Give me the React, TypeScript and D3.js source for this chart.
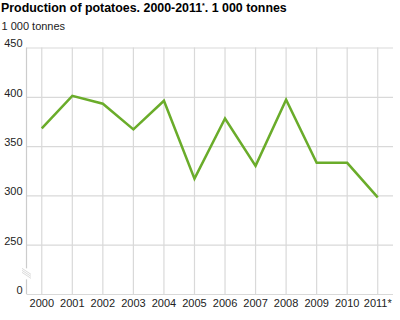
import { useEffect, useRef } from 'react'
import * as d3 from 'd3'

const years = ['2000', '2001', '2002', '2003', '2004', '2005', '2006', '2007', '2008', '2009', '2010', '2011*']
const production = [368, 401, 393, 367, 396, 317, 378, 330, 397, 333, 333, 298]
// axis is broken: the bottom tick stands for 0 but sits where 200 would be
const yTicks = [200, 250, 300, 350, 400, 450]
const yTickLabels = ['0', '250', '300', '350', '400', '450']

const WIDTH = 400
const HEIGHT = 320
const GREEN = '#6aac2a'
const GRID = '#d9d9d9'
const FONT = '"Liberation Sans", Arial, sans-serif'

function PotatoChart() {
  const ref = useRef<SVGSVGElement>(null)

  useEffect(() => {
    const el = ref.current
    if (!el) return
    const svg = d3.select(el)
    svg.selectAll('*').remove()

    const margin = { top: 47.5, right: 7, bottom: 26, left: 26.5 }
    const innerW = WIDTH - margin.left - margin.right
    const innerH = HEIGHT - margin.top - margin.bottom

    const x = d3.scaleBand().domain(years).range([0, innerW]).padding(0)
    const y = d3.scaleLinear().domain([200, 450]).range([innerH, 0])

    // title
    const title = svg
      .append('text')
      .attr('x', 1)
      .attr('y', 12)
      .attr('font-family', FONT)
      .attr('font-size', 12.4)
      .attr('font-weight', 700)
      .attr('fill', '#000')
    title.append('tspan').text('Production of potatoes. 2000-2011')
    title.append('tspan').attr('font-size', 7).attr('dy', -4).text('*')
    title.append('tspan').attr('dy', 4).text('. 1 000 tonnes')

    svg
      .append('text')
      .attr('x', 1.5)
      .attr('y', 30)
      .attr('font-family', FONT)
      .attr('font-size', 11)
      .attr('fill', '#222')
      .text('1 000 tonnes')

    const g = svg.append('g').attr('transform', `translate(${margin.left},${margin.top})`)

    // horizontal grid + y labels
    g.append('g')
      .call(
        d3
          .axisLeft(y)
          .tickValues(yTicks)
          .tickSize(-innerW)
          .tickPadding(4)
          .tickFormat((_, i) => yTickLabels[i])
      )
      .call((s) => s.select('.domain').remove())
      .call((s) => s.selectAll('line').attr('stroke', GRID).attr('stroke-width', 1.2))
      .call((s) =>
        s
          .selectAll('text')
          .attr('fill', '#222')
          .attr('font-family', FONT)
          .style('font-size', '11px')
          .attr('dy', '-0.05em')
      )

    // vertical grid + x labels
    g.append('g')
      .attr('transform', `translate(0,${innerH})`)
      .call(d3.axisBottom(x).tickSize(-innerH).tickPadding(5))
      .call((s) => s.select('.domain').remove())
      .call((s) => s.selectAll('line').attr('stroke', GRID).attr('stroke-width', 1.2))
      .call((s) =>
        s
          .selectAll('text')
          .attr('fill', '#222')
          .attr('font-family', FONT)
          .style('font-size', '11px')
      )

    // left axis line with break mark
    g.append('line')
      .attr('x1', 0)
      .attr('x2', 0)
      .attr('y1', 0)
      .attr('y2', innerH)
      .attr('stroke', '#cccccc')
      .attr('stroke-width', 1.2)

    const breakY = y(225) + 6
    g.append('rect')
      .attr('x', -4)
      .attr('y', breakY - 7)
      .attr('width', 8)
      .attr('height', 11)
      .attr('fill', '#fff')
    ;[-2, 0, 2].forEach((off) => {
      g.append('line')
        .attr('x1', -4.5)
        .attr('x2', 4.5)
        .attr('y1', breakY - 5 + off)
        .attr('y2', breakY + 1 + off)
        .attr('stroke', '#d0d0d0')
        .attr('stroke-width', 0.8)
    })

    const line = d3
      .line<number>()
      .x((_, i) => (x(years[i]) || 0) + x.bandwidth() / 2)
      .y((d) => y(d))

    g.append('path')
      .datum(production)
      .attr('d', line)
      .attr('fill', 'none')
      .attr('stroke', GREEN)
      .attr('stroke-width', 2.5)
      .attr('stroke-linejoin', 'miter')
  }, [])

  return (
    <svg
      ref={ref}
      width={WIDTH}
      height={HEIGHT}
      style={{ position: 'absolute', left: 0, top: 0, background: '#fff', display: 'block' }}
    />
  )
}

export default function App() {
  return <PotatoChart />
}
